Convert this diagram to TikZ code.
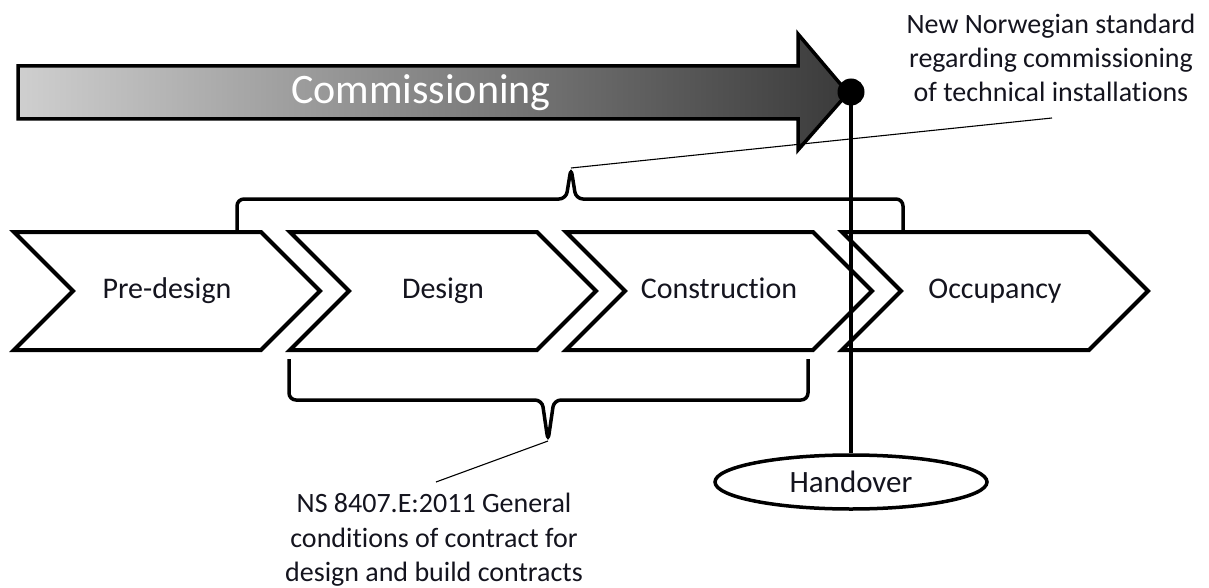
\documentclass[tikz,border=0pt]{standalone}
\usepackage{fontspec}
\setmainfont{Carlito}[Ligatures=NoCommon]
\usetikzlibrary{positioning,shapes.symbols,shapes.geometric}
\definecolor{commLight}{HTML}{CFCFCF}
\definecolor{commMid}{HTML}{8A8A8A}
\definecolor{commDark}{HTML}{3A3A3A}
\definecolor{inkBlack}{HTML}{000000}
\definecolor{labelInk}{HTML}{14141E}
\tikzset{
    phase/.style={signal,signal from=west,signal to=east,signal pointer angle=90,
        draw=inkBlack,fill=white,line width=4pt,minimum width=306pt,minimum height=118pt,
        inner sep=0pt,text=labelInk,text height=21pt,text depth=7pt,
        font=\fontsize{30}{36}\selectfont},
    bracket/.style={draw=inkBlack,line width=3.5pt,rounded corners=7pt},
    leader/.style={draw=inkBlack,line width=1.1pt},
    note/.style={align=center,inner sep=0pt,text=labelInk,font=\fontsize{28}{34}\selectfont},
    milestone/.style={draw=inkBlack,line width=4.5pt}
}

\begin{document}
\begin{tikzpicture}[x=1pt,y=-1pt]
        \useasboundingbox (0,0) rectangle (1209,588);

        % commissioning arrow with grey fade
        \path[draw=inkBlack,line width=3.5pt,left color=commLight,middle color=commMid,
            right color=commDark]
            (18,66) -- (798,66) -- (798,34) -- (848,93) -- (798,150) -- (798,119)
            -- (18,119) -- cycle;
        \node[text=white,inner sep=0pt,font=\fontsize{42}{48}\selectfont] (comm) at (421,93) {Commissioning};

        % project phases
        \node[phase] (pre) at (167,291) {Pre-design};
        \node[phase] (des) at (443,291) {Design};
        \node[phase] (con) at (719,291) {Construction};
        \node[phase] (occ) at (995,291) {Occupancy};

        % brackets over and under the phases
        \coordinate (topcusp) at (571,168);
        \coordinate (botcusp) at (548,441);
        \draw[bracket] (237,231) -- (237,199) -- (566,199) -- (topcusp) -- (576,199)
            -- (903,199) -- (903,231);
        \draw[bracket] (289,359) -- (289,400) -- (542,400) -- (botcusp) -- (554,400)
            -- (808,400) -- (808,359);

        % notes
        \node[note] (nstd) at (1051,58) {New Norwegian standard\\regarding commissioning\\of technical installations};
        \node[note,font=\fontsize{28}{34.5}\selectfont] (ns8407) at (434,540)
            {NS 8407.E:2011 General\\conditions of contract for\\design and build contracts};
        \coordinate (nstdend) at (1052,118);
        \coordinate (nsend) at (436,482);
        \draw[leader] (topcusp) -- (nstdend);
        \draw[leader] (botcusp) -- (nsend);

        % handover milestone
        \node[ellipse,draw=inkBlack,line width=3.5pt,fill=white,minimum width=272pt,
            minimum height=54pt,inner sep=0pt,text=labelInk,
            font=\fontsize{31}{36}\selectfont] (hand) at (851,482) {Handover};
        \node[circle,fill=inkBlack,minimum size=27pt,inner sep=0pt] (dot) at (851,92) {};
        \draw[milestone] (dot.center) -- (hand.north);

    \end{tikzpicture}
\end{document}
